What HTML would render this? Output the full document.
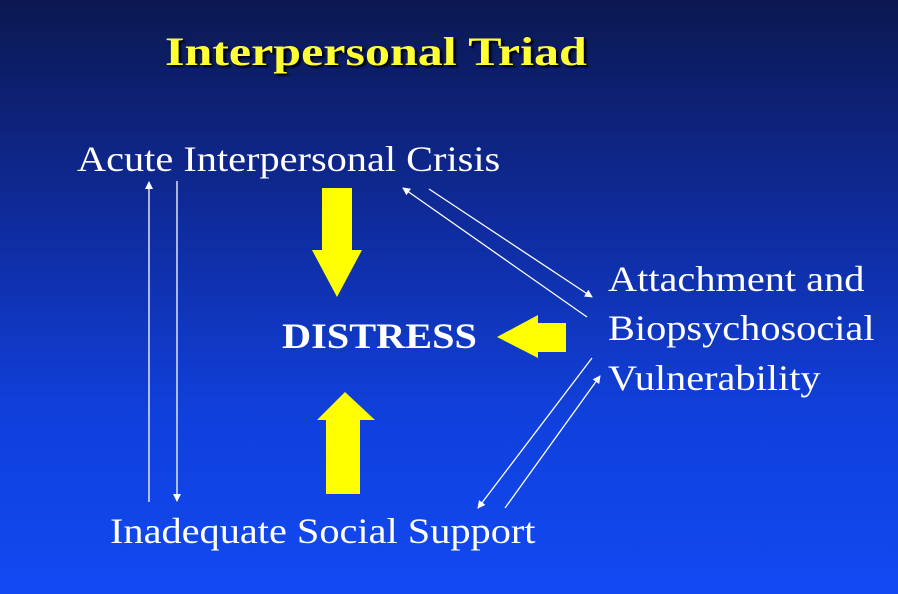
<!DOCTYPE html>
<html><head><meta charset="utf-8"><style>
html,body{margin:0;padding:0}
body{width:898px;height:594px;overflow:hidden;background:linear-gradient(180deg,#0b1850 0%,#0f2a98 35%,#1040dc 70%,#1249f2 100%);font-family:"Liberation Serif",serif;position:relative}
.t{position:absolute;white-space:nowrap;color:#fff;font-size:36px;line-height:1;transform:scaleX(1.12);transform-origin:0 0}
</style></head><body>
<div class="t" style="left:165px;top:32px;color:#ffff33;font-weight:bold;font-size:40px;text-shadow:2px 2px 2px #000;transform:scaleX(1.25)">Interpersonal Triad</div>
<div class="t" style="left:77px;top:141px;">Acute Interpersonal Crisis</div>
<div class="t" style="left:282px;top:318px;font-weight:bold;">DISTRESS</div>
<div class="t" style="left:608px;top:261px;">Attachment and</div>
<div class="t" style="left:608px;top:310px;">Biopsychosocial</div>
<div class="t" style="left:608px;top:360px;">Vulnerability</div>
<div class="t" style="left:110px;top:513px;">Inadequate Social Support</div>
<svg width="898" height="594" style="position:absolute;left:0;top:0">
<defs><marker id="a" markerWidth="8" markerHeight="8" refX="7" refY="4" orient="auto" markerUnits="userSpaceOnUse"><path d="M0,0 L8,4 L0,8z" fill="#fff"/></marker></defs>
<g stroke="#fff" stroke-width="1.3" fill="none">
<line x1="149" y1="502" x2="149" y2="182" marker-end="url(#a)"/>
<line x1="177" y1="181" x2="177" y2="501" marker-end="url(#a)"/>
<line x1="587" y1="317" x2="403" y2="188" marker-end="url(#a)"/>
<line x1="429" y1="189" x2="592" y2="297" marker-end="url(#a)"/>
<line x1="592" y1="358" x2="478" y2="508" marker-end="url(#a)"/>
<line x1="505" y1="508" x2="600" y2="376" marker-end="url(#a)"/>
</g>
<g fill="#ffff00">
<path d="M322,188 H352 V250 H362 L337,297 L312,250 H322Z"/>
<path d="M566,323 V352 H538 V358 L497,337 L538,315 V323Z"/>
<path d="M326,494 V420 H317 L345,392 L375,420 H360 V494Z"/>
</g>
</svg>
</body></html>
